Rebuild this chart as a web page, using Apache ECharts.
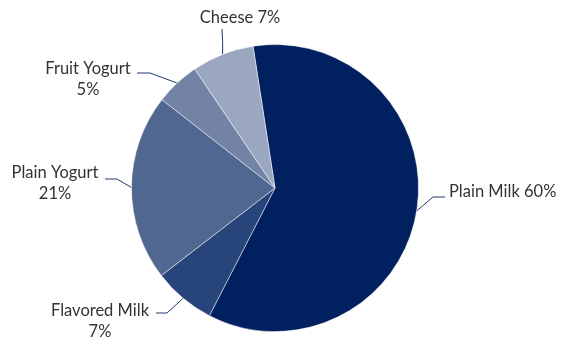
<!DOCTYPE html>
<html>
<head>
<meta charset="utf-8">
<script src="https://cdn.jsdelivr.net/npm/echarts@6/dist/echarts.min.js"></script>
<style>
  html, body { margin: 0; padding: 0; background: #fff; }
  #chart { width: 561px; height: 341px; }
</style>
</head>
<body>
<div id="chart"></div>
<script>
// Dairy consumption shares (%)
const categories = ['Plain Milk', 'Flavored Milk', 'Plain Yogurt', 'Fruit Yogurt', 'Cheese'];
const shares = [60, 7, 21, 5, 7];
const sliceColors = ['#002060', '#28457b', '#4f6791', '#7383a6', '#9ba7c1'];

// Label placement per slice: text anchor, alignment, and the leader-line bend/end points
const labelPlacement = [
  { x: 449, y: 192, align: 'left',   bend: [433, 197], end: [445, 197], twoLine: false },
  { x: 100, y: 321, align: 'center', bend: [167, 313], end: [156, 313], twoLine: true },
  { x: 55,  y: 183, align: 'center', bend: [117, 179], end: [105, 179], twoLine: true },
  { x: 88,  y: 79,  align: 'center', bend: [150, 73],  end: [137, 73],  twoLine: true },
  { x: 240, y: 18,  align: 'center', bend: null,       end: [222, 29],  twoLine: false }
];

const chart = echarts.init(document.getElementById('chart'), null, { renderer: 'canvas' });

chart.setOption({
  animation: false,
  series: [{
    type: 'pie',
    center: [275, 188],
    radius: 143.5,
    startAngle: 98.8,
    clockwise: true,
    avoidLabelOverlap: false,
    itemStyle: { borderColor: 'rgba(255,255,255,0.6)', borderWidth: 0.8 },
    label: {
      show: true,
      color: '#333333',
      fontFamily: 'Lato',
      fontSize: 16.5,
      lineHeight: 21,
      formatter: function (p) {
        const pl = labelPlacement[p.dataIndex];
        return p.name + (pl.twoLine ? '\n' : ' ') + p.value + '%';
      }
    },
    labelLine: {
      show: true,
      lineStyle: { color: '#1f3a6e', width: 1 }
    },
    labelLayout: function (params) {
      const pl = labelPlacement[params.dataIndex];
      const start = params.labelLinePoints ? params.labelLinePoints[0] : pl.end;
      const mid = pl.bend || [start[0], (start[1] + pl.end[1]) / 2];
      return {
        x: pl.x,
        y: pl.y,
        align: pl.align,
        verticalAlign: 'middle',
        labelLinePoints: [start, mid, pl.end]
      };
    },
    data: categories.map((name, i) => ({
      name: name,
      value: shares[i],
      itemStyle: { color: sliceColors[i] }
    }))
  }]
});
</script>
</body>
</html>
